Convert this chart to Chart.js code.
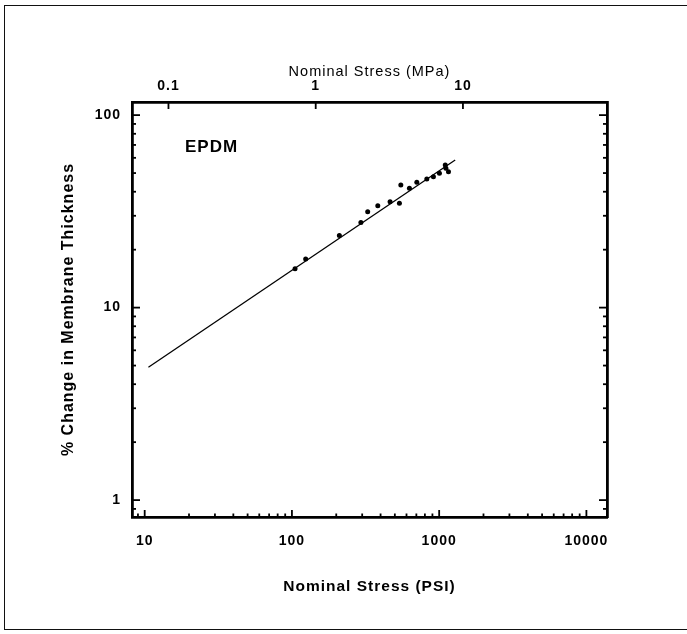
<!DOCTYPE html>
<html>
<head>
<meta charset="utf-8">
<script src="https://cdn.jsdelivr.net/npm/chart.js@4.4.1/dist/chart.umd.min.js"></script>
<style>
  body { margin: 0; background: #fff; }
  #wrap { position: relative; width: 687px; height: 634px; overflow: hidden; }
  #frame { position: absolute; left: 4px; top: 5px; width: 800px; height: 623px; border: 1.5px solid #111; }
  canvas { position: absolute; left: 0; top: 0; }
</style>
</head>
<body>
<div id="wrap">
  <div id="frame"></div>
  <canvas id="myChart" width="687" height="634"></canvas>
</div>
<script>
const ctx = document.getElementById('myChart');

// measured points (PSI, % change)
const stressPsi = [105, 124, 210, 294, 327, 383, 464, 537, 549, 628, 705, 824, 914, 1004, 1100, 1111, 1157];
const thickChange = [15.9, 17.9, 23.7, 27.7, 31.5, 33.8, 35.5, 34.9, 43.4, 41.7, 44.8, 46.6, 47.9, 49.9, 55.1, 52.9, 50.8];

// fitted line end points
const fitPsi = [10.6, 1285];
const fitChange = [4.9, 58.5];

const psiTicks = [10, 100, 1000, 10000];
const mpaTicks = [0.1, 1, 10];
const pctTicks = [1, 10, 100];

const PSI_PER_MPA = 145.04;
const xMin = 8.2, xMax = 13800;
const yMin = 0.817, yMax = 117;

const font = 'Liberation Sans, Arial, sans-serif';

function toPoints(xs, ys) {
    return xs.map((x, i) => ({ x: x, y: ys[i] }));
}

function setTicks(list) {
    return function (scale) {
        scale.ticks = list.map(v => ({ value: v }));
    };
}

// scanned helvetica looks spaced out
const spacing = {
    id: 'spacing',
    beforeDraw(chart) {
        chart.ctx.letterSpacing = '1px';
    }
};

// tick marks pointing into the plot box
const innerTicks = {
    id: 'innerTicks',
    afterDraw(chart) {
        const c = chart.ctx;
        const a = chart.chartArea;
        c.save();
        c.strokeStyle = '#000';
        c.lineWidth = 1.8;

        function logValues(min, max) {
            let out = [];
            for (let e = Math.floor(Math.log10(min)); e <= Math.ceil(Math.log10(max)); e++) {
                for (let m = 1; m <= 9; m++) {
                    let v = m * Math.pow(10, e);
                    if (v >= min && v <= max) out.push({ v: v, major: m === 1 });
                }
            }
            return out;
        }

        let sx = chart.scales.x;
        logValues(xMin, xMax).forEach(t => {
            let px = sx.getPixelForValue(t.v);
            let len = t.major ? 7 : 3.5;
            c.beginPath(); c.moveTo(px, a.bottom); c.lineTo(px, a.bottom - len); c.stroke();
        });

        let sx2 = chart.scales.x2;
        mpaTicks.forEach(v => {
            let px = sx2.getPixelForValue(v);
            c.beginPath(); c.moveTo(px, a.top); c.lineTo(px, a.top + 7); c.stroke();
        });

        let sy = chart.scales.y;
        logValues(yMin, yMax).forEach(t => {
            let py = sy.getPixelForValue(t.v);
            let len = t.major ? 8 : 4;
            c.beginPath(); c.moveTo(a.left, py); c.lineTo(a.left + len, py); c.stroke();
            c.beginPath(); c.moveTo(a.right, py); c.lineTo(a.right - len, py); c.stroke();
        });

        // label inside the box
        c.fillStyle = '#000';
        c.font = 'bold 17px ' + font;
        c.textAlign = 'left';
        c.textBaseline = 'middle';
        c.fillText('EPDM', a.left + 53, a.top + 45);
        c.restore();
    }
};

const border = { display: true, color: '#000', width: 2.8 };
const tickFont = { family: font, size: 14, weight: 'bold' };

new Chart(ctx, {
    type: 'scatter',
    data: {
        datasets: [{
            label: 'EPDM',
            data: toPoints(stressPsi, thickChange),
            backgroundColor: '#000',
            borderColor: '#000',
            pointRadius: 2.5,
            pointBorderWidth: 0
        }, {
            type: 'line',
            label: 'fit',
            data: toPoints(fitPsi, fitChange),
            borderColor: '#000',
            borderWidth: 1.3,
            pointRadius: 0,
            fill: false
        }]
    },
    options: {
        responsive: false,
        animation: false,
        layout: { padding: 0 },
        plugins: {
            legend: { display: false },
            tooltip: { enabled: false }
        },
        scales: {
            x: {
                type: 'logarithmic',
                position: 'bottom',
                min: xMin,
                max: xMax,
                afterBuildTicks: setTicks(psiTicks),
                afterFit: s => { s.height = 117; },
                grid: { display: false, drawTicks: false },
                border: border,
                ticks: {
                    padding: 16,
                    color: '#000',
                    font: tickFont,
                    callback: v => String(v)
                },
                title: {
                    display: true,
                    text: 'Nominal Stress (PSI)',
                    color: '#000',
                    font: { family: font, size: 15.5, weight: 'bold' },
                    padding: { top: 0, bottom: 38 }
                }
            },
            x2: {
                type: 'logarithmic',
                position: 'top',
                min: xMin / PSI_PER_MPA,
                max: xMax / PSI_PER_MPA,
                afterBuildTicks: setTicks(mpaTicks),
                afterFit: s => { s.height = 102; },
                grid: { display: false, drawTicks: false },
                border: border,
                ticks: {
                    padding: 7,
                    color: '#000',
                    font: tickFont,
                    callback: v => String(v)
                },
                title: {
                    display: true,
                    text: 'Nominal Stress (MPa)',
                    color: '#000',
                    font: { family: font, size: 14.5 },
                    padding: { top: 63, bottom: 0 }
                }
            },
            y: {
                type: 'logarithmic',
                position: 'left',
                min: yMin,
                max: yMax,
                afterBuildTicks: setTicks(pctTicks),
                afterFit: s => { s.width = 132; },
                grid: { display: false, drawTicks: false },
                border: border,
                ticks: {
                    padding: 11,
                    color: '#000',
                    font: tickFont,
                    callback: v => String(v)
                },
                title: {
                    display: true,
                    text: '% Change in Membrane Thickness',
                    color: '#000',
                    font: { family: font, size: 16, weight: 'bold' },
                    padding: { top: 59, bottom: 0 }
                }
            },
            y2: {
                type: 'logarithmic',
                position: 'right',
                min: yMin,
                max: yMax,
                afterBuildTicks: setTicks(pctTicks),
                afterFit: s => { s.width = 80; },
                grid: { display: false, drawTicks: false },
                border: border,
                ticks: { display: false }
            }
        }
    },
    plugins: [spacing, innerTicks]
});
</script>
</body>
</html>
